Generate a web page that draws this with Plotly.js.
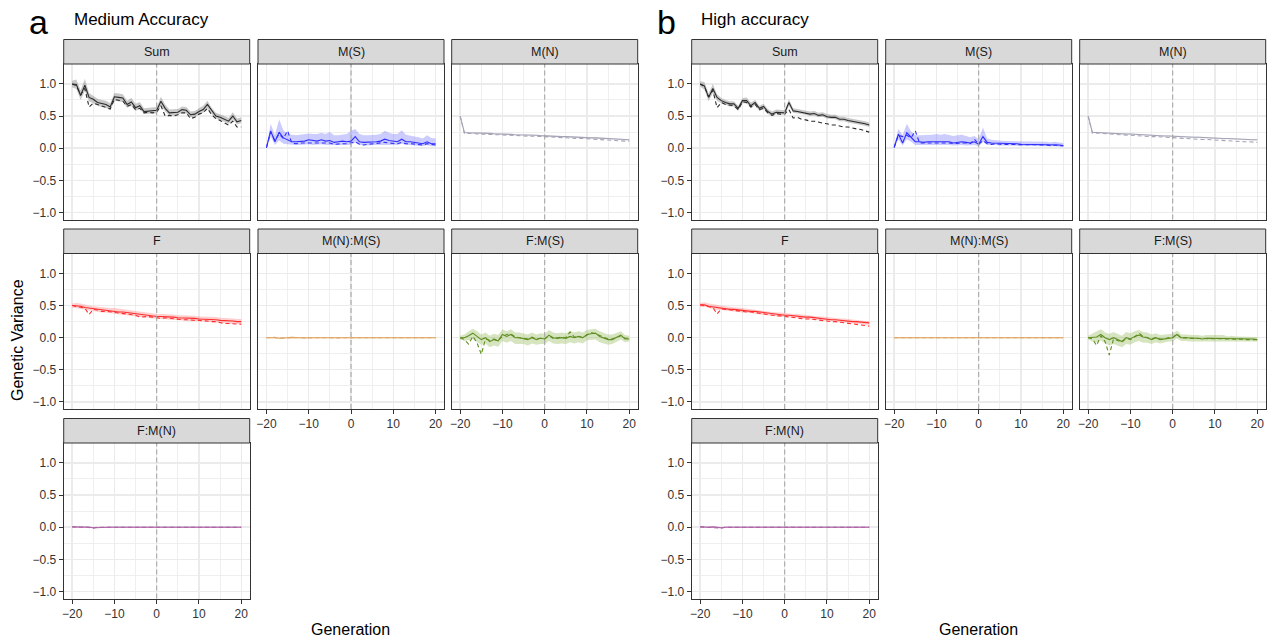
<!DOCTYPE html>
<html><head><meta charset="utf-8">
<script src="https://cdn.plot.ly/plotly-3.0.1.min.js"></script>
<style>html,body{margin:0;padding:0;background:#fff}#chart{width:1272px;height:641px}</style>
</head><body><div id="chart"></div>
<script>
// ---------- data ----------
const generations = [-20,-19,-18,-17,-16,-15,-14,-13,-12,-11,-10,-9,-8,-7,-6,-5,-4,-3,-2,-1,0,1,2,3,4,5,6,7,8,9,10,11,12,13,14,15,16,17,18,19,20];
const panelNames = ['Sum','M(S)','M(N)','F','M(N):M(S)','F:M(S)','F:M(N)'];
const xTicks = [-20,-10,0,10,20];
const yTicks = [-1,-0.5,0,0.5,1];
const sideTitles = {a:'Medium Accuracy', b:'High accuracy'};
const xTitle = 'Generation';
const yTitle = 'Genetic Variance';

// ---- a: Medium Accuracy ----
const aSumMean = [1.00,0.99,0.82,0.98,0.79,0.76,0.71,0.69,0.68,0.64,0.80,0.79,0.78,0.68,0.72,0.63,0.66,0.57,0.58,0.58,0.59,0.73,0.62,0.55,0.55,0.56,0.60,0.59,0.52,0.53,0.57,0.60,0.68,0.58,0.50,0.48,0.45,0.42,0.50,0.41,0.43];
const aSumLo   = [0.95,0.92,0.75,0.89,0.73,0.70,0.66,0.64,0.63,0.59,0.74,0.73,0.72,0.63,0.66,0.58,0.61,0.53,0.54,0.54,0.54,0.66,0.57,0.51,0.51,0.52,0.55,0.54,0.48,0.49,0.52,0.55,0.62,0.53,0.46,0.44,0.41,0.38,0.45,0.37,0.39];
const aSumHi   = [1.05,1.07,0.90,1.08,0.86,0.82,0.77,0.75,0.74,0.70,0.86,0.85,0.84,0.74,0.78,0.69,0.72,0.62,0.63,0.63,0.64,0.80,0.68,0.60,0.60,0.61,0.65,0.64,0.57,0.58,0.62,0.66,0.74,0.63,0.55,0.53,0.50,0.47,0.56,0.46,0.48];
const aSumDash = [1.00,0.97,0.83,0.93,0.64,0.70,0.68,0.66,0.64,0.61,0.76,0.74,0.73,0.65,0.68,0.60,0.62,0.55,0.56,0.55,0.56,0.66,0.50,0.51,0.50,0.52,0.55,0.55,0.46,0.48,0.53,0.55,0.62,0.52,0.46,0.43,0.39,0.36,0.42,0.33,0.33];

const aMSMean = [0.01,0.27,0.10,0.25,0.16,0.13,0.10,0.10,0.10,0.11,0.13,0.12,0.11,0.13,0.11,0.12,0.09,0.10,0.11,0.10,0.11,0.18,0.10,0.09,0.09,0.10,0.10,0.11,0.14,0.12,0.11,0.10,0.14,0.10,0.10,0.09,0.08,0.07,0.10,0.07,0.07];
const aMSLo   = [0.00,0.18,0.05,0.12,0.07,0.06,0.05,0.05,0.05,0.05,0.06,0.05,0.05,0.06,0.05,0.05,0.04,0.05,0.05,0.05,0.05,0.09,0.05,0.04,0.04,0.05,0.05,0.05,0.06,0.06,0.05,0.05,0.07,0.05,0.05,0.04,0.04,0.03,0.05,0.03,0.03];
const aMSHi   = [0.03,0.38,0.20,0.45,0.28,0.22,0.21,0.20,0.21,0.22,0.23,0.22,0.22,0.24,0.22,0.25,0.20,0.20,0.21,0.22,0.27,0.30,0.22,0.20,0.20,0.20,0.21,0.22,0.27,0.24,0.22,0.22,0.28,0.21,0.19,0.18,0.17,0.15,0.20,0.16,0.15];
const aMSDash = [0.01,0.25,0.12,0.22,0.15,0.27,0.08,0.07,0.08,0.08,0.09,0.08,0.08,0.09,0.08,0.08,0.06,0.07,0.07,0.07,0.08,0.10,0.06,0.05,0.06,0.07,0.07,0.08,0.09,0.08,0.08,0.07,0.09,0.07,0.07,0.06,0.06,0.05,0.07,0.06,0.05];

const aMNMean = [0.50,0.245,0.24,0.24,0.235,0.235,0.23,0.23,0.225,0.225,0.22,0.22,0.215,0.21,0.21,0.205,0.205,0.20,0.20,0.195,0.19,0.19,0.185,0.185,0.18,0.18,0.175,0.175,0.17,0.17,0.165,0.16,0.16,0.155,0.155,0.15,0.15,0.145,0.14,0.135,0.13];
const aMNLo   = [0.49,0.235,0.23,0.23,0.225,0.225,0.22,0.22,0.215,0.215,0.21,0.21,0.205,0.20,0.20,0.195,0.195,0.19,0.19,0.185,0.18,0.18,0.175,0.175,0.17,0.17,0.165,0.165,0.16,0.16,0.155,0.15,0.15,0.145,0.145,0.14,0.14,0.135,0.13,0.125,0.12];
const aMNHi   = [0.51,0.255,0.25,0.25,0.245,0.245,0.24,0.24,0.235,0.235,0.23,0.23,0.225,0.22,0.22,0.215,0.215,0.21,0.21,0.205,0.20,0.20,0.195,0.195,0.19,0.19,0.185,0.185,0.18,0.18,0.175,0.17,0.17,0.165,0.165,0.16,0.16,0.155,0.15,0.145,0.14];
const aMNDash = [0.50,0.23,0.23,0.235,0.22,0.22,0.215,0.22,0.21,0.21,0.205,0.205,0.20,0.20,0.195,0.19,0.19,0.185,0.185,0.18,0.18,0.175,0.17,0.17,0.165,0.16,0.16,0.155,0.15,0.15,0.145,0.14,0.14,0.135,0.13,0.13,0.125,0.12,0.115,0.11,0.11];

const aFMean = [0.50,0.50,0.49,0.47,0.46,0.45,0.44,0.43,0.43,0.42,0.41,0.40,0.40,0.39,0.38,0.37,0.36,0.35,0.35,0.34,0.33,0.33,0.33,0.32,0.32,0.31,0.31,0.30,0.30,0.30,0.29,0.29,0.29,0.28,0.28,0.27,0.27,0.26,0.26,0.25,0.25];
const aFLo   = [0.47,0.46,0.45,0.43,0.42,0.41,0.40,0.39,0.39,0.38,0.37,0.36,0.36,0.35,0.34,0.33,0.32,0.31,0.31,0.30,0.29,0.29,0.29,0.28,0.28,0.27,0.27,0.26,0.26,0.26,0.25,0.25,0.25,0.24,0.24,0.23,0.23,0.22,0.22,0.21,0.21];
const aFHi   = [0.53,0.54,0.53,0.51,0.50,0.49,0.48,0.48,0.47,0.46,0.46,0.45,0.44,0.43,0.42,0.41,0.40,0.39,0.39,0.38,0.37,0.37,0.37,0.36,0.36,0.35,0.35,0.35,0.34,0.34,0.33,0.33,0.33,0.32,0.32,0.31,0.31,0.30,0.30,0.29,0.29];
const aFDash = [0.50,0.49,0.48,0.46,0.36,0.44,0.43,0.41,0.41,0.40,0.39,0.39,0.38,0.37,0.36,0.35,0.32,0.33,0.33,0.32,0.31,0.30,0.31,0.30,0.30,0.29,0.28,0.28,0.27,0.27,0.27,0.26,0.26,0.25,0.25,0.23,0.22,0.22,0.22,0.21,0.21];

const aMNMSMean = [0.00,0.005,0.00,-0.01,0.00,0.00,0.005,0.00,0.00,-0.005,0.00,0.00,0.005,0.00,0.005,0.00,0.00,0.00,0.005,0.00,0.00,0.00,0.005,0.00,0.00,0.005,0.00,-0.005,0.00,0.00,0.00,0.005,0.00,0.00,0.005,0.00,0.00,0.00,0.00,0.00,0.00];
const aMNMSLo   = [-0.01,-0.01,-0.01,-0.02,-0.01,-0.01,-0.01,-0.01,-0.01,-0.015,-0.01,-0.01,-0.01,-0.01,-0.01,-0.01,-0.01,-0.01,-0.01,-0.01,-0.01,-0.01,-0.01,-0.01,-0.01,-0.01,-0.01,-0.015,-0.01,-0.01,-0.01,-0.01,-0.01,-0.01,-0.01,-0.01,-0.01,-0.01,-0.01,-0.01,-0.01];
const aMNMSHi   = [0.01,0.015,0.01,0.005,0.01,0.01,0.015,0.01,0.01,0.005,0.01,0.01,0.015,0.01,0.015,0.01,0.01,0.01,0.015,0.01,0.01,0.01,0.015,0.01,0.01,0.015,0.01,0.005,0.01,0.01,0.01,0.015,0.01,0.01,0.015,0.01,0.01,0.01,0.01,0.01,0.01];
const aMNMSDash = [0.00,0.00,0.005,-0.01,-0.005,0.00,0.00,0.00,0.005,-0.005,0.00,0.00,0.00,0.00,0.005,0.00,-0.005,0.00,0.00,0.00,0.00,0.005,0.00,0.00,0.00,0.00,0.00,-0.005,0.00,0.00,0.00,0.00,0.00,0.005,0.00,0.00,0.00,0.00,0.00,0.00,0.00];

const aFMSMean = [0.00,0.00,0.03,0.07,0.02,-0.03,0.00,-0.06,-0.03,-0.05,0.05,0.02,0.05,0.00,0.00,-0.01,-0.03,0.00,-0.03,-0.01,-0.02,0.04,0.00,-0.01,0.00,-0.01,0.02,0.00,0.02,0.00,0.05,0.06,0.07,0.02,0.00,-0.03,-0.03,0.00,0.04,-0.02,-0.02];
const aFMSLo   = [-0.03,-0.05,-0.04,-0.02,-0.07,-0.11,-0.09,-0.15,-0.12,-0.14,-0.05,-0.08,-0.05,-0.10,-0.10,-0.10,-0.12,-0.09,-0.11,-0.10,-0.10,-0.05,-0.09,-0.10,-0.09,-0.10,-0.07,-0.09,-0.07,-0.09,-0.04,-0.03,-0.03,-0.07,-0.09,-0.11,-0.10,-0.07,-0.03,-0.07,-0.06];
const aFMSHi   = [0.03,0.05,0.10,0.14,0.10,0.05,0.08,0.03,0.06,0.04,0.13,0.10,0.13,0.08,0.08,0.07,0.05,0.08,0.05,0.07,0.06,0.12,0.08,0.07,0.08,0.07,0.10,0.08,0.10,0.08,0.12,0.13,0.14,0.10,0.08,0.05,0.05,0.07,0.10,0.04,0.03];
const aFMSDash = [0.00,-0.03,-0.10,0.02,-0.08,-0.26,-0.02,-0.04,-0.02,-0.04,0.02,0.05,0.06,0.01,0.00,-0.01,-0.02,0.01,-0.02,-0.01,-0.02,0.03,-0.01,0.00,0.01,0.00,0.09,0.01,0.02,0.00,0.04,0.08,0.06,0.03,0.00,-0.02,-0.02,0.00,0.03,-0.01,-0.01];

const aFMNMean = [0.005,0.005,0.00,0.005,0.00,-0.01,-0.005,0.00,0.005,0.00,0.00,0.00,0.01,0.00,0.00,0.005,0.00,0.00,0.00,0.00,0.00,0.005,0.00,0.00,0.005,0.00,0.00,0.00,0.005,0.01,0.00,0.00,0.005,0.00,0.00,0.005,0.00,0.00,0.00,0.00,0.00];
const aFMNLo   = [-0.005,-0.005,-0.01,-0.005,-0.01,-0.02,-0.015,-0.01,-0.005,-0.01,-0.01,-0.01,0.00,-0.01,-0.01,-0.005,-0.01,-0.01,-0.01,-0.01,-0.01,-0.005,-0.01,-0.01,-0.005,-0.01,-0.01,-0.01,-0.005,0.00,-0.01,-0.01,-0.005,-0.01,-0.01,-0.005,-0.01,-0.01,-0.01,-0.01,-0.01];
const aFMNHi   = [0.015,0.015,0.01,0.015,0.01,0.00,0.005,0.01,0.015,0.01,0.01,0.01,0.02,0.01,0.01,0.015,0.01,0.01,0.01,0.01,0.01,0.015,0.01,0.01,0.015,0.01,0.01,0.01,0.015,0.02,0.01,0.01,0.015,0.01,0.01,0.015,0.01,0.01,0.01,0.01,0.01];
const aFMNDash = [0.005,0.00,0.00,0.005,-0.005,-0.015,0.00,0.00,0.005,0.00,0.00,0.005,0.01,0.00,0.00,0.00,0.00,0.00,0.005,0.00,0.00,0.00,0.00,0.005,0.00,0.00,0.00,0.00,0.005,0.01,0.00,0.00,0.00,0.00,0.005,0.00,0.00,0.00,0.00,0.00,0.00];

// ---- b: High accuracy ----
const bSumMean = [1.00,0.97,0.79,0.93,0.79,0.74,0.71,0.69,0.69,0.62,0.74,0.74,0.66,0.71,0.62,0.65,0.57,0.53,0.56,0.55,0.55,0.71,0.58,0.57,0.56,0.55,0.53,0.54,0.51,0.52,0.49,0.48,0.48,0.45,0.45,0.43,0.42,0.41,0.39,0.38,0.36];
const bSumLo   = [0.96,0.91,0.73,0.86,0.74,0.70,0.67,0.65,0.65,0.58,0.70,0.70,0.62,0.67,0.58,0.61,0.53,0.50,0.53,0.52,0.52,0.66,0.55,0.54,0.53,0.52,0.50,0.51,0.48,0.49,0.46,0.45,0.45,0.42,0.42,0.40,0.39,0.38,0.36,0.35,0.33];
const bSumHi   = [1.04,1.03,0.85,1.00,0.84,0.78,0.75,0.73,0.73,0.66,0.78,0.79,0.71,0.75,0.66,0.69,0.61,0.57,0.60,0.59,0.59,0.76,0.62,0.61,0.60,0.59,0.57,0.58,0.55,0.56,0.53,0.52,0.52,0.49,0.49,0.47,0.46,0.45,0.43,0.42,0.40];
const bSumDash = [1.00,0.96,0.80,0.90,0.63,0.71,0.68,0.67,0.66,0.60,0.72,0.71,0.64,0.68,0.60,0.62,0.55,0.51,0.54,0.53,0.53,0.60,0.47,0.48,0.45,0.44,0.42,0.42,0.40,0.39,0.38,0.36,0.36,0.34,0.33,0.33,0.31,0.30,0.29,0.27,0.25];

const bMSMean = [0.01,0.22,0.08,0.24,0.17,0.10,0.10,0.09,0.10,0.10,0.11,0.10,0.11,0.10,0.08,0.09,0.10,0.09,0.08,0.10,0.06,0.18,0.09,0.08,0.08,0.07,0.07,0.07,0.07,0.07,0.06,0.06,0.06,0.06,0.06,0.06,0.06,0.05,0.06,0.05,0.04];
const bMSLo   = [0.00,0.14,0.04,0.14,0.10,0.05,0.05,0.05,0.05,0.05,0.05,0.05,0.05,0.05,0.04,0.04,0.05,0.04,0.04,0.05,0.03,0.10,0.05,0.05,0.05,0.04,0.04,0.04,0.04,0.04,0.03,0.03,0.03,0.03,0.03,0.03,0.03,0.03,0.03,0.03,0.02];
const bMSHi   = [0.03,0.30,0.20,0.38,0.26,0.20,0.20,0.20,0.21,0.21,0.22,0.21,0.22,0.21,0.19,0.20,0.21,0.19,0.17,0.19,0.14,0.32,0.15,0.13,0.12,0.11,0.11,0.11,0.11,0.11,0.10,0.10,0.10,0.10,0.10,0.10,0.10,0.09,0.10,0.09,0.08];
const bMSDash = [0.01,0.20,0.18,0.20,0.16,0.27,0.08,0.08,0.09,0.09,0.09,0.09,0.09,0.08,0.07,0.08,0.08,0.08,0.07,0.14,0.06,0.12,0.07,0.06,0.07,0.06,0.06,0.06,0.06,0.06,0.05,0.05,0.05,0.05,0.05,0.05,0.05,0.04,0.05,0.04,0.04];

const bMNMean = [0.50,0.245,0.245,0.24,0.24,0.235,0.23,0.23,0.225,0.22,0.22,0.215,0.21,0.21,0.205,0.20,0.20,0.195,0.19,0.19,0.185,0.18,0.18,0.175,0.175,0.17,0.17,0.165,0.16,0.16,0.155,0.155,0.15,0.15,0.145,0.145,0.14,0.14,0.135,0.13,0.13];
const bMNLo   = [0.49,0.235,0.235,0.23,0.23,0.225,0.22,0.22,0.215,0.21,0.21,0.205,0.20,0.20,0.195,0.19,0.19,0.185,0.18,0.18,0.175,0.17,0.17,0.165,0.165,0.16,0.16,0.155,0.15,0.15,0.145,0.145,0.14,0.14,0.135,0.135,0.13,0.13,0.125,0.12,0.12];
const bMNHi   = [0.51,0.255,0.255,0.25,0.25,0.245,0.24,0.24,0.235,0.23,0.23,0.225,0.22,0.22,0.215,0.21,0.21,0.205,0.20,0.20,0.195,0.19,0.19,0.185,0.185,0.18,0.18,0.175,0.17,0.17,0.165,0.165,0.16,0.16,0.155,0.155,0.15,0.15,0.145,0.14,0.14];
const bMNDash = [0.50,0.235,0.235,0.24,0.225,0.22,0.215,0.21,0.21,0.205,0.20,0.20,0.195,0.19,0.185,0.18,0.18,0.175,0.17,0.165,0.165,0.16,0.155,0.15,0.15,0.145,0.14,0.135,0.135,0.13,0.125,0.12,0.12,0.115,0.11,0.11,0.105,0.10,0.10,0.095,0.09];

const bFMean = [0.51,0.51,0.49,0.48,0.46,0.46,0.45,0.44,0.44,0.43,0.42,0.42,0.41,0.41,0.40,0.39,0.38,0.37,0.36,0.36,0.35,0.35,0.34,0.34,0.33,0.32,0.32,0.31,0.30,0.30,0.29,0.28,0.28,0.27,0.27,0.26,0.25,0.25,0.24,0.23,0.23];
const bFLo   = [0.48,0.48,0.46,0.45,0.43,0.43,0.42,0.41,0.41,0.40,0.39,0.39,0.38,0.38,0.37,0.36,0.35,0.34,0.33,0.33,0.32,0.32,0.31,0.31,0.30,0.29,0.29,0.28,0.27,0.27,0.26,0.25,0.25,0.24,0.24,0.23,0.22,0.22,0.21,0.20,0.20];
const bFHi   = [0.54,0.55,0.53,0.52,0.50,0.49,0.48,0.48,0.47,0.47,0.46,0.46,0.44,0.44,0.43,0.42,0.41,0.40,0.39,0.39,0.38,0.38,0.37,0.37,0.36,0.35,0.35,0.34,0.33,0.33,0.32,0.31,0.31,0.30,0.30,0.29,0.28,0.28,0.27,0.26,0.26];
const bFDash = [0.51,0.50,0.48,0.47,0.37,0.45,0.44,0.43,0.42,0.42,0.41,0.40,0.40,0.39,0.38,0.37,0.35,0.35,0.34,0.34,0.33,0.32,0.32,0.31,0.30,0.29,0.29,0.28,0.27,0.27,0.26,0.25,0.25,0.24,0.23,0.22,0.21,0.21,0.20,0.19,0.18];

const bMNMSMean = [0.00,0.00,0.005,-0.005,0.00,0.00,0.00,0.005,0.00,0.00,0.00,0.005,0.00,0.00,0.00,0.00,0.005,0.00,0.00,0.00,0.00,0.00,0.00,0.005,0.00,0.00,0.00,0.00,0.00,0.005,0.00,0.00,0.00,0.00,0.00,0.00,0.00,0.00,0.00,0.00,0.00];
const bMNMSLo   = [-0.01,-0.01,-0.005,-0.015,-0.01,-0.01,-0.01,-0.005,-0.01,-0.01,-0.01,-0.005,-0.01,-0.01,-0.01,-0.01,-0.005,-0.01,-0.01,-0.01,-0.01,-0.01,-0.01,-0.005,-0.01,-0.01,-0.01,-0.01,-0.01,-0.005,-0.01,-0.01,-0.01,-0.01,-0.01,-0.01,-0.01,-0.01,-0.01,-0.01,-0.01];
const bMNMSHi   = [0.01,0.01,0.015,0.005,0.01,0.01,0.01,0.015,0.01,0.01,0.01,0.015,0.01,0.01,0.01,0.01,0.015,0.01,0.01,0.01,0.01,0.01,0.01,0.015,0.01,0.01,0.01,0.01,0.01,0.015,0.01,0.01,0.01,0.01,0.01,0.01,0.01,0.01,0.01,0.01,0.01];
const bMNMSDash = [0.00,0.00,0.00,-0.005,0.00,0.005,0.00,0.00,0.00,0.00,0.005,0.00,0.00,0.00,0.00,0.00,0.00,0.00,0.00,0.00,0.00,0.00,0.00,0.00,0.00,0.00,0.00,0.00,0.00,0.00,0.00,0.00,0.00,0.00,0.00,0.00,0.00,0.00,0.00,0.00,0.00];

const bFMSMean = [0.00,0.00,0.01,0.05,0.00,-0.03,0.00,-0.03,-0.06,0.00,-0.02,0.02,0.04,0.01,0.00,-0.03,0.00,-0.03,-0.02,0.00,0.00,0.05,0.00,0.00,-0.01,-0.01,-0.01,-0.02,-0.01,-0.01,-0.01,-0.02,-0.01,-0.02,-0.01,-0.02,-0.02,-0.02,-0.02,-0.02,-0.03];
const bFMSLo   = [-0.03,-0.06,-0.07,-0.04,-0.09,-0.12,-0.10,-0.12,-0.15,-0.10,-0.11,-0.07,-0.05,-0.08,-0.08,-0.10,-0.07,-0.09,-0.08,-0.06,-0.06,-0.01,-0.05,-0.05,-0.06,-0.06,-0.06,-0.07,-0.06,-0.06,-0.06,-0.07,-0.06,-0.06,-0.06,-0.06,-0.06,-0.06,-0.06,-0.06,-0.06];
const bFMSHi   = [0.03,0.06,0.09,0.13,0.08,0.06,0.09,0.06,0.03,0.09,0.07,0.10,0.12,0.09,0.08,0.05,0.07,0.04,0.05,0.06,0.06,0.11,0.05,0.05,0.04,0.04,0.04,0.03,0.04,0.04,0.04,0.03,0.04,0.02,0.03,0.02,0.02,0.02,0.02,0.02,0.01];
const bFMSDash = [0.00,-0.02,-0.12,0.03,-0.06,-0.27,-0.02,-0.05,-0.07,-0.01,-0.03,0.01,0.07,0.02,0.00,-0.02,0.00,-0.02,-0.02,0.00,0.00,0.06,-0.01,0.00,-0.01,-0.01,-0.02,-0.02,-0.02,-0.02,-0.02,-0.02,-0.02,-0.02,-0.02,-0.03,-0.02,-0.03,-0.03,-0.03,-0.03];

const bFMNMean = [0.005,0.00,0.00,0.005,0.00,-0.01,0.00,0.00,0.005,0.00,0.00,0.005,0.005,0.00,0.00,0.00,0.005,0.00,0.00,0.00,0.00,0.00,0.005,0.00,0.00,0.00,0.005,0.00,0.00,0.005,0.00,0.00,0.00,0.005,0.00,0.00,0.00,0.00,0.00,0.00,0.00];
const bFMNLo   = [-0.005,-0.01,-0.01,-0.005,-0.01,-0.02,-0.01,-0.01,-0.005,-0.01,-0.01,-0.005,-0.005,-0.01,-0.01,-0.01,-0.005,-0.01,-0.01,-0.01,-0.01,-0.01,-0.005,-0.01,-0.01,-0.01,-0.005,-0.01,-0.01,-0.005,-0.01,-0.01,-0.01,-0.005,-0.01,-0.01,-0.01,-0.01,-0.01,-0.01,-0.01];
const bFMNHi   = [0.015,0.01,0.01,0.015,0.01,0.00,0.01,0.01,0.015,0.01,0.01,0.015,0.015,0.01,0.01,0.01,0.015,0.01,0.01,0.01,0.01,0.01,0.015,0.01,0.01,0.01,0.015,0.01,0.01,0.015,0.01,0.01,0.01,0.015,0.01,0.01,0.01,0.01,0.01,0.01,0.01];
const bFMNDash = [0.005,0.00,0.00,0.00,-0.005,-0.015,0.00,0.00,0.005,0.00,0.00,0.00,0.005,0.00,0.00,0.00,0.00,0.005,0.00,0.00,0.00,0.00,0.00,0.00,0.005,0.00,0.00,0.00,0.00,0.00,0.005,0.00,0.00,0.00,0.00,0.00,0.00,0.00,0.00,0.00,0.00];

// ---------- styling ----------
const panelStyle = {
  'Sum':       {line:'#2B2B2B', fill:'rgba(90,90,90,0.33)'},
  'M(S)':      {line:'#2F2FFF', fill:'rgba(95,95,255,0.32)'},
  'M(N)':      {line:'#A4A4B6', fill:'rgba(150,150,170,0.25)'},
  'F':         {line:'#FF2E2E', fill:'rgba(255,105,105,0.33)'},
  'M(N):M(S)': {line:'#DFA663', fill:'rgba(223,166,99,0.35)'},
  'F:M(S)':    {line:'#5F8F22', fill:'rgba(140,180,80,0.36)'},
  'F:M(N)':    {line:'#AD62A4', fill:'rgba(173,98,164,0.32)'}
};
const sides = [
  {key:'a', cx:[156.7,351,544.7], panels:{
    'Sum':[aSumMean,aSumLo,aSumHi,aSumDash], 'M(S)':[aMSMean,aMSLo,aMSHi,aMSDash], 'M(N)':[aMNMean,aMNLo,aMNHi,aMNDash],
    'F':[aFMean,aFLo,aFHi,aFDash], 'M(N):M(S)':[aMNMSMean,aMNMSLo,aMNMSHi,aMNMSDash], 'F:M(S)':[aFMSMean,aFMSLo,aFMSHi,aFMSDash],
    'F:M(N)':[aFMNMean,aFMNLo,aFMNHi,aFMNDash]}},
  {key:'b', cx:[784.7,978.7,1172.7], panels:{
    'Sum':[bSumMean,bSumLo,bSumHi,bSumDash], 'M(S)':[bMSMean,bMSLo,bMSHi,bMSDash], 'M(N)':[bMNMean,bMNLo,bMNHi,bMNDash],
    'F':[bFMean,bFLo,bFHi,bFDash], 'M(N):M(S)':[bMNMSMean,bMNMSLo,bMNMSHi,bMNMSDash], 'F:M(S)':[bFMSMean,bFMSLo,bFMSHi,bFMSDash],
    'F:M(N)':[bFMNMean,bFMNLo,bFMNHi,bFMNDash]}}
];
const slots = {'Sum':[0,0],'M(S)':[0,1],'M(N)':[0,2],'F':[1,0],'M(N):M(S)':[1,1],'F:M(S)':[1,2],'F:M(N)':[2,0]};
const bottomOf = {'Sum':false,'M(S)':false,'M(N)':false,'F':false,'M(N):M(S)':true,'F:M(S)':true,'F:M(N)':true};

const W=1272, H=641;
const rowTops=[64,253.5,443], halfW=93, plotH=155.5, stripH=24.5;
const FONT='"Liberation Sans", Arial, Helvetica, sans-serif';
const px = v => v/W, py = v => 1 - v/H;

const traces=[], shapes=[], annotations=[];
const layout = {width:W, height:H, margin:{l:0,r:0,t:0,b:0}, paper_bgcolor:'#fff', plot_bgcolor:'#fff', showlegend:false, font:{family:FONT}};

let k = 0;
sides.forEach(side => {
  panelNames.forEach(name => {
    k++;
    const [r,c] = slots[name];
    const cx = side.cx[c], top = rowTops[r];
    const xa = k===1 ? 'x' : 'x'+k, ya = k===1 ? 'y' : 'y'+k;
    const st = panelStyle[name];
    const [mean, lo, hi, dash] = side.panels[name];
    const left = c===0, bottom = bottomOf[name];
    layout['xaxis'+(k===1?'':k)] = {
      domain:[px(cx-halfW), px(cx+halfW)], anchor:ya, range:[-22,22], fixedrange:true,
      tickmode:'array', tickvals:xTicks, ticktext:xTicks.map(v=>v<0?'\u2212'+(-v):String(v)),
      showticklabels:bottom, ticks:bottom?'outside':'', ticklen:4, tickwidth:1, tickcolor:'#333',
      tickfont:{size:12, color:'#333333', family:FONT},
      showgrid:true, gridcolor:'#EBEBEB', gridwidth:1.4,
      minor:{tickmode:'array', tickvals:[-15,-5,5,15], showgrid:true, gridcolor:'#EBEBEB', gridwidth:0.8, ticks:''},
      zeroline:false, showline:true, mirror:true, linecolor:'#333', linewidth:1
    };
    layout['yaxis'+(k===1?'':k)] = {
      domain:[py(top+plotH), py(top)], anchor:xa, range:[-1.11,1.31], fixedrange:true,
      tickmode:'array', tickvals:yTicks, ticktext:yTicks.map(v=>(v<0?'\u2212':'')+Math.abs(v).toFixed(1)),
      showticklabels:left, ticks:left?'outside':'', ticklen:4, tickwidth:1, tickcolor:'#333',
      tickfont:{size:12, color:'#333333', family:FONT},
      showgrid:true, gridcolor:'#EBEBEB', gridwidth:1.4,
      minor:{tickmode:'array', tickvals:[-0.75,-0.25,0.25,0.75], showgrid:true, gridcolor:'#EBEBEB', gridwidth:0.8, ticks:''},
      zeroline:false, showline:true, mirror:true, linecolor:'#333', linewidth:1
    };
    // ribbon
    traces.push({x:generations.concat(generations.slice().reverse()), y:hi.concat(lo.slice().reverse()),
      xaxis:xa, yaxis:ya, type:'scatter', mode:'lines', fill:'toself', fillcolor:st.fill, line:{width:0}, hoverinfo:'skip'});
    traces.push({x:generations, y:dash, xaxis:xa, yaxis:ya, type:'scatter', mode:'lines',
      line:{color:st.line, width:1.1, dash:'4px,3px'}, hoverinfo:'skip'});
    traces.push({x:generations, y:mean, xaxis:xa, yaxis:ya, type:'scatter', mode:'lines',
      line:{color:st.line, width:1.1}, hoverinfo:'skip'});
    // vertical reference line at generation 0
    shapes.push({type:'line', xref:xa, yref:ya+' domain', x0:0, x1:0, y0:0, y1:1, layer:'above',
      line:{color:'#A6A6A6', width:1.1, dash:'5px,3px'}});
    // strip
    shapes.push({type:'rect', xref:'paper', yref:'paper', x0:px(cx-halfW), x1:px(cx+halfW), y0:py(top), y1:py(top-stripH),
      fillcolor:'#D9D9D9', line:{color:'#333', width:1}, layer:'above'});
    annotations.push({xref:'paper', yref:'paper', x:px(cx), y:py(top-stripH/2), text:name, showarrow:false,
      xanchor:'center', yanchor:'middle', font:{size:12.5, color:'#1A1A1A', family:FONT}});
  });
});

// panel letters and titles
annotations.push({xref:'paper', yref:'paper', x:px(38), y:py(22), text:'a', showarrow:false, xanchor:'center', yanchor:'middle', font:{size:34, color:'#000', family:FONT}});
annotations.push({xref:'paper', yref:'paper', x:px(72), y:py(19), text:sideTitles.a, showarrow:false, xanchor:'left', yanchor:'middle', font:{size:17, color:'#000', family:FONT}});
annotations.push({xref:'paper', yref:'paper', x:px(666), y:py(22), text:'b', showarrow:false, xanchor:'center', yanchor:'middle', font:{size:34, color:'#000', family:FONT}});
annotations.push({xref:'paper', yref:'paper', x:px(699), y:py(19), text:sideTitles.b, showarrow:false, xanchor:'left', yanchor:'middle', font:{size:17, color:'#000', family:FONT}});
// axis titles
annotations.push({xref:'paper', yref:'paper', x:px(350.7), y:py(629), text:xTitle, showarrow:false, xanchor:'center', yanchor:'middle', font:{size:16, color:'#000', family:FONT}});
annotations.push({xref:'paper', yref:'paper', x:px(978.7), y:py(629), text:xTitle, showarrow:false, xanchor:'center', yanchor:'middle', font:{size:16, color:'#000', family:FONT}});
annotations.push({xref:'paper', yref:'paper', x:px(17), y:py(340), text:yTitle, showarrow:false, textangle:-90, xanchor:'center', yanchor:'middle', font:{size:16, color:'#000', family:FONT}});

layout.shapes = shapes;
layout.annotations = annotations;
Plotly.newPlot('chart', traces, layout, {displayModeBar:false, staticPlot:true});
</script>
</body></html>
